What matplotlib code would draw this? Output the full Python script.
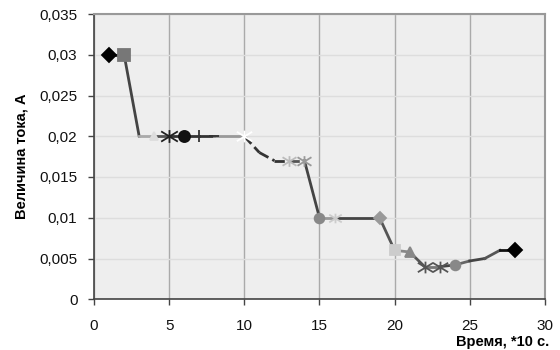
import matplotlib.pyplot as plt
import matplotlib.ticker as mticker
from matplotlib.path import Path

plt.rcParams['font.family'] = ['Liberation Sans', 'DejaVu Sans']

# точки кривой тока
time = [1, 2, 3, 4, 5, 6, 7, 8, 10, 11, 12, 13, 14, 15, 16, 19,
        20, 21, 22, 23, 24, 25, 26, 27, 28]
current = [0.03, 0.03, 0.02, 0.02, 0.02, 0.02, 0.02, 0.02, 0.02, 0.018,
           0.017, 0.017, 0.017, 0.01, 0.01, 0.01, 0.006, 0.0058, 0.004,
           0.004, 0.0042, 0.0047, 0.005, 0.006, 0.006]

# сегменты: (индекс начала, индекс конца, цвет, стиль)
segments = [(0, 1, '#222222', '-'), (1, 2, '#444444', '-'), (2, 3, '#aaaaaa', '-'),
            (3, 4, '#555555', '-'), (4, 5, '#333333', '-'), (5, 6, '#333333', '-'),
            (6, 7, '#333333', '-'), (7, 8, '#999999', '-'), (8, 9, '#333333', '--'),
            (9, 10, '#333333', '--'), (10, 11, '#333333', '--'), (11, 12, '#555555', '--'),
            (12, 13, '#444444', '-'), (13, 14, '#999999', '-'), (14, 15, '#444444', '-'),
            (15, 16, '#555555', '-'), (16, 17, '#888888', '-'), (17, 18, '#555555', '-'),
            (18, 19, '#777777', '-'), (19, 20, '#444444', '-'), (20, 21, '#666666', '-'),
            (21, 22, '#444444', '-'), (22, 23, '#555555', '-'), (23, 24, '#111111', '-')]

# звёздочка как в Excel: крест + вертикальная черта
star = Path([(-1.3, -0.8), (1.3, 0.8), (-1.3, 0.8), (1.3, -0.8), (0, -1), (0, 1)],
            [Path.MOVETO, Path.LINETO, Path.MOVETO, Path.LINETO, Path.MOVETO, Path.LINETO])

# маркеры: (индекс, маркер, цвет, размер)
markers = [(0, 'D', '#000000', 7), (1, 's', '#777777', 8), (3, '^', '#dddddd', 6),
           (4, star, '#222222', 12), (5, 'o', '#111111', 8), (6, '|', '#333333', 9),
           (7, '_', '#333333', 7), (8, star, '#ffffff', 11), (11, star, '#bbbbbb', 10),
           (12, star, '#999999', 10), (13, 'o', '#888888', 7), (14, star, '#cccccc', 9),
           (15, 'D', '#999999', 6), (16, 's', '#cccccc', 7), (17, '^', '#888888', 7),
           (18, star, '#555555', 11), (19, star, '#555555', 11), (20, 'o', '#888888', 7),
           (24, 'D', '#000000', 7)]

fig = plt.figure(figsize=(5.6, 3.5), dpi=100)
ax = fig.add_axes([0.168, 0.145, 0.805, 0.815])
ax.set_facecolor('#eeeeee')

for i0, i1, c, ls in segments:
    ax.plot(time[i0:i1 + 1], current[i0:i1 + 1], color=c, linestyle=ls, lw=2, zorder=3)

for i, m, c, s in markers:
    ax.plot(time[i], current[i], marker=m, color=c, markersize=s, mew=1.3, zorder=4,
            linestyle='none')

ax.set_xlim(0, 30)
ax.set_ylim(0, 0.035)
ax.xaxis.set_major_locator(mticker.MultipleLocator(5))
ax.yaxis.set_major_locator(mticker.MultipleLocator(0.005))
ax.yaxis.set_major_formatter(mticker.FuncFormatter(
    lambda v, p: '0' if abs(v) < 1e-12 else ('%g' % round(v, 3)).replace('.', ',')))

ax.grid(axis='x', color='#aaaaaa', lw=1)
ax.grid(axis='y', color='#dddddd', lw=1)
ax.set_axisbelow(True)

for s in ['top', 'right']:
    ax.spines[s].set_color('#999999')
    ax.spines[s].set_linewidth(1.5)
for s in ['left', 'bottom']:
    ax.spines[s].set_color('#444444')
    ax.spines[s].set_linewidth(1.2)

ax.tick_params(direction='out', length=4, width=1, color='#444444',
               labelsize=11, labelcolor='#111111')
ax.tick_params(axis='x', pad=10)
ax.tick_params(axis='y', pad=8)

ax.set_ylabel('Величина тока, А', fontsize=10.5, fontweight='bold', labelpad=8)
ax.set_xlabel('Время, *10 с.', fontsize=10.5, fontweight='bold')
ax.xaxis.set_label_coords(1.01, -0.15)
ax.xaxis.label.set_horizontalalignment('right')
ax.xaxis.label.set_verticalalignment('center')

fig.savefig('out.png', dpi=100)
